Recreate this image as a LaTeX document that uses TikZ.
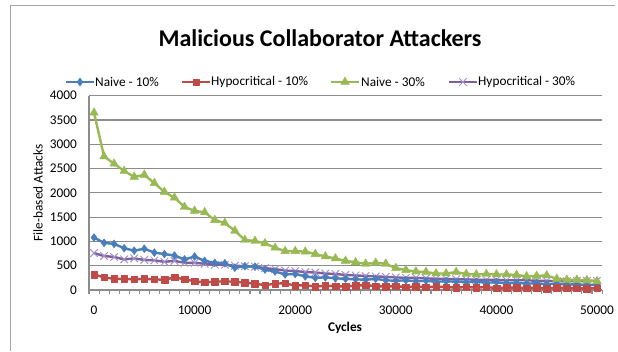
\documentclass[tikz,border=0pt]{standalone}
\usepackage{fontspec}
\setmainfont{Carlito}
\usetikzlibrary{plotmarks}
\definecolor{naiveblue}{HTML}{4A7EBB}
\definecolor{hypored}{HTML}{BE4B48}
\definecolor{naivegreen}{HTML}{98B954}
\definecolor{hypopurple}{HTML}{7D60A0}
\definecolor{hypolilac}{HTML}{A592CB}
\definecolor{gridgray}{HTML}{8C8C8C}
\tikzset{every node/.style={font=\fontsize{13.3}{15}\selectfont, inner sep=0pt},
  serie/.style={line width=2.4pt, line join=round},
  naiveten/.style={serie, naiveblue, mark=diamond*, mark size=4pt, mark options={solid, line width=0.4pt}},
  hypoten/.style={serie, hypored, mark=square*, mark size=3.3pt, mark options={solid, line width=0.4pt}},
  naivethirty/.style={serie, naivegreen, mark=triangle*, mark size=5pt, mark options={solid, line width=0.4pt}},
  hypothirty/.style={serie, hypopurple, mark=x, mark size=5.3pt, mark options={hypolilac, line width=1pt}},
  gridrule/.style={draw=gridgray, line width=1.1pt},
  axisrule/.style={draw=gridgray, line width=1.1pt},
  framerule/.style={draw=gray!70, line width=1.1pt}}

\begin{document}
\begin{tikzpicture}[x=1pt,y=-1pt]
  \useasboundingbox (0,0) rectangle (618,351);
  \draw[framerule] (10.5,351) -- (10.5,5.5) -- (615,5.5);
  % title and legend
  \node[font=\bfseries\fontsize{24}{28}\selectfont] (title) at (320,38) {Malicious Collaborator Attackers};
  \draw[naiveten, mark indices={2}] plot coordinates {(66,82) (80,82) (94,82)};
  \node[anchor=west] (legnaiveten) at (95,82) {Naive - 10\%};
  \draw[hypoten, mark indices={2}] plot coordinates {(182,82) (196,82) (210,82)};
  \node[anchor=west] (leghypoten) at (211,82) {Hypocritical - 10\%};
  \draw[naivethirty, mark indices={2}] plot coordinates {(331,82) (345,82) (359,82)};
  \node[anchor=west] (legnaivethirty) at (361,82) {Naive - 30\%};
  \draw[hypothirty, mark indices={2}] plot coordinates {(449,82) (463,82) (477,82)};
  \node[anchor=west] (leghypothirty) at (478,82) {Hypocritical - 30\%};
  % grid and axes
  \foreach \val in {500,1000,...,4000}
    \draw[gridrule] (89,{290-\val*0.048575}) -- (602,{290-\val*0.048575});
  \draw[axisrule] (89,95.7) -- (89,290) -- (602,290);
  \foreach \k in {0,...,51}
    \draw[axisrule] ({89+\k*10.06},290) -- ++(0,4);
  \foreach \val in {0,500,...,4000}
    \node[anchor=east] (ytick\val) at (77,{290-\val*0.048575}) {\val};
  \foreach \c/\t in {0/0,1/10000,2/20000,3/30000,4/40000,5/50000}
    \node (xtick\c) at ({94+\c*100.6},310) {\t};
  \node[rotate=90] (ylabel) at (38,193) {File-based Attacks};
  \node[font=\bfseries\fontsize{13.3}{15}\selectfont] (xlabel) at (345,328) {Cycles};
  % series
  \begin{scope}[shift={(94,290)}, x=10.06pt, y=0.048575pt]
   \draw[hypothirty] plot coordinates {(0,760) (1,700) (2,680) (3,630) (4,650) (5,620) (6,610) (7,580) (8,600) (9,560)
     (10,560) (11,540) (12,520) (13,520) (14,500) (15,490) (16,480) (17,450) (18,430) (19,400)
     (20,390) (21,370) (22,360) (23,340) (24,330) (25,310) (26,300) (27,290) (28,280) (29,270)
     (30,260) (31,250) (32,250) (33,240) (34,230) (35,230) (36,220) (37,220) (38,210) (39,210)
     (40,210) (41,200) (42,200) (43,200) (44,190) (45,190) (46,180) (47,180) (48,190) (49,190) (50,190)};
   \draw[naiveten] plot coordinates {(0,1080) (1,970) (2,950) (3,860) (4,810) (5,850) (6,770) (7,740) (8,710) (9,630)
     (10,690) (11,600) (12,560) (13,550) (14,460) (15,490) (16,480) (17,420) (18,380) (19,320)
     (20,330) (21,280) (22,250) (23,260) (24,240) (25,230) (26,220) (27,210) (28,230) (29,200)
     (30,190) (31,200) (32,180) (33,190) (34,170) (35,180) (36,170) (37,160) (38,170) (39,150)
     (40,160) (41,140) (42,150) (43,130) (44,140) (45,120) (46,130) (47,110) (48,120) (49,100) (50,110)};
   \draw[hypoten] plot coordinates {(0,320) (1,260) (2,230) (3,230) (4,220) (5,230) (6,220) (7,210) (8,260) (9,220)
     (10,180) (11,160) (12,170) (13,180) (14,170) (15,150) (16,130) (17,100) (18,130) (19,140)
     (20,90) (21,100) (22,70) (23,90) (24,80) (25,70) (26,90) (27,100) (28,80) (29,70)
     (30,80) (31,60) (32,70) (33,60) (34,70) (35,60) (36,50) (37,60) (38,50) (39,60)
     (40,40) (41,50) (42,50) (43,40) (44,50) (45,30) (46,50) (47,40) (48,40) (49,30) (50,40)};
   \draw[naivethirty] plot coordinates {(0,3650) (1,2750) (2,2600) (3,2450) (4,2330) (5,2370) (6,2200) (7,2020) (8,1900) (9,1710)
     (10,1630) (11,1600) (12,1440) (13,1380) (14,1220) (15,1030) (16,1010) (17,960) (18,870) (19,800)
     (20,800) (21,790) (22,740) (23,690) (24,650) (25,600) (26,570) (27,540) (28,560) (29,540)
     (30,450) (31,410) (32,380) (33,370) (34,340) (35,340) (36,370) (37,330) (38,320) (39,330)
     (40,320) (41,320) (42,310) (43,280) (44,290) (45,300) (46,230) (47,210) (48,210) (49,200) (50,180)};
  \end{scope}
\end{tikzpicture}
\end{document}
